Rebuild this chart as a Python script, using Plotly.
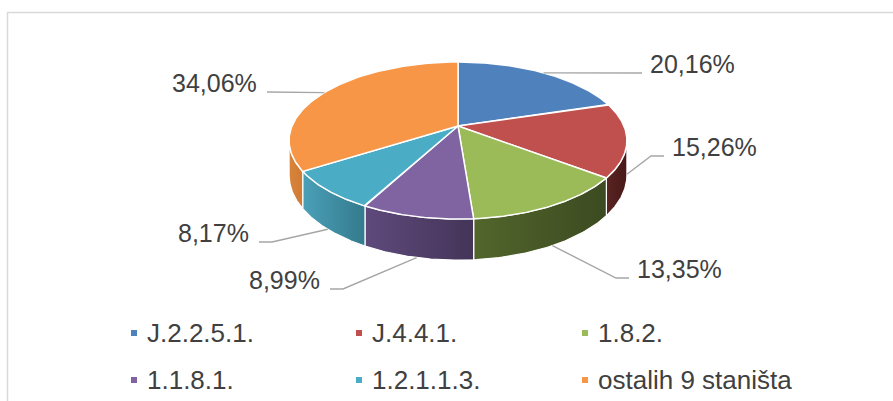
import numpy as np
import plotly.graph_objects as go

# ---- data ----
categories = ["J.2.2.5.1.", "J.4.4.1.", "1.8.2.", "1.1.8.1.", "1.2.1.1.3.", "ostalih 9 staništa"]
shares = [20.16, 15.26, 13.35, 8.99, 8.17, 34.06]
label_texts = ["20,16%", "15,26%", "13,35%", "8,99%", "8,17%", "34,06%"]

# ---- styles ----
top_colors = ["#4F81BD", "#C0504D", "#9BBB59", "#8064A2", "#4BACC6", "#F79646"]
side_colors = [("#3a5f8c", "#2f4d72"), ("#5a2422", "#461918"), ("#52662b", "#3c4a21"),
               ("#5e4a7c", "#443458"), ("#4aa0b8", "#347a8d"), ("#d8843c", "#cf7b34")]
TEXT = "#404040"
FONT = "Liberation Sans, Arial, sans-serif"

W, H = 893, 401
CX, CY = 458, 126      # pie vertex (pixels)
RX, RY = 166, 75.8     # radii of the tilted disc
K = 0.185              # perspective factor
T = 33.5               # thickness

# label placement: (anchor x, baseline y, xanchor)
label_pos = [(648, 73, "left"), (670, 156, "left"), (635, 278, "left"),
             (322, 289, "right"), (251, 242, "right"), (259, 92, "right")]
legend_cols = [134, 359, 585]
legend_rows = [333, 380]


def proj(theta_deg, down=0.0):
    th = np.radians(theta_deg)
    u, v = np.sin(th), np.cos(th)
    s = 1.0 / (1.0 + K * v)
    return CX + RX * u * s, CY - RY * v * s + down * s


fig = go.Figure()

total = sum(shares)
bounds = np.concatenate([[0], np.cumsum(shares)]) / total * 360.0
vis_lo = np.degrees(np.arccos(-K))
vis_hi = 360 - vis_lo

# side faces
for i in range(len(shares)):
    a0, a1 = bounds[i], bounds[i + 1]
    lo, hi = max(a0, vis_lo), min(a1, vis_hi)
    if hi <= lo:
        continue
    th = np.linspace(lo, hi, 60)
    xt, yt = proj(th)
    xb, yb = proj(th[::-1], T)
    xs = np.concatenate([xt, xb, xt[:1]])
    ys = np.concatenate([yt, yb, yt[:1]])
    c1, c2 = side_colors[i]
    fig.add_trace(go.Scatter(
        x=xs, y=ys, mode="lines", fill="toself",
        fillgradient=dict(type="horizontal", colorscale=[[0, c1], [1, c2]]),
        line=dict(color="white", width=1.2),
        hoverinfo="skip", showlegend=False))

# top faces
for i in range(len(shares)):
    a0, a1 = bounds[i], bounds[i + 1]
    th = np.linspace(a0, a1, 120)
    xa, ya = proj(th)
    xs = np.concatenate([[CX], xa, [CX]])
    ys = np.concatenate([[CY], ya, [CY]])
    fig.add_trace(go.Scatter(
        x=xs, y=ys, mode="lines", fill="toself", fillcolor=top_colors[i],
        line=dict(color="white", width=1.5),
        hoverinfo="skip", showlegend=False))

# leader lines and labels
annotations = []
for i in range(len(shares)):
    mid = (bounds[i] + bounds[i + 1]) / 2
    v = np.cos(np.radians(mid))
    sx, sy = proj(mid, T if v < 0 else 0.0)
    lx, base, anch = label_pos[i]
    if anch == "left":
        ex = lx - 6
        elx = ex - 13
    else:
        ex = lx + 8
        elx = ex + 13
    fig.add_trace(go.Scatter(
        x=[sx, elx, ex], y=[sy, base, base], mode="lines",
        line=dict(color="#A6A6A6", width=1.4),
        hoverinfo="skip", showlegend=False))
    annotations.append(dict(
        x=lx, y=base - 9, xref="x", yref="y", text=label_texts[i],
        showarrow=False, xanchor=anch, yanchor="middle",
        font=dict(family=FONT, size=25, color=TEXT)))

# legend (manual, 3 columns x 2 rows)
lg_x = [legend_cols[i % 3] for i in range(len(categories))]
lg_y = [legend_rows[i // 3] for i in range(len(categories))]
fig.add_trace(go.Scatter(
    x=lg_x, y=lg_y, mode="markers",
    marker=dict(symbol="square", size=6, color=top_colors, line=dict(width=0)),
    hoverinfo="skip", showlegend=False))
for i, name in enumerate(categories):
    annotations.append(dict(
        x=lg_x[i] + 11, y=lg_y[i], xref="x", yref="y", text=name,
        showarrow=False, xanchor="left", yanchor="middle",
        font=dict(family=FONT, size=26, color=TEXT)))

fig.update_layout(
    width=W, height=H,
    margin=dict(l=0, r=0, t=0, b=0),
    paper_bgcolor="white", plot_bgcolor="white",
    xaxis=dict(range=[0, W], visible=False, fixedrange=True),
    yaxis=dict(range=[H, 0], visible=False, fixedrange=True),
    annotations=annotations,
    shapes=[dict(type="rect", xref="x", yref="y", x0=7.5, y0=12.5, x1=W + 10, y1=H + 10,
                 line=dict(color="#D9D9D9", width=1.5), layer="below")],
)

fig.write_html("out.html", post_script="document.body.style.margin='0';",
               config={"displayModeBar": False})
